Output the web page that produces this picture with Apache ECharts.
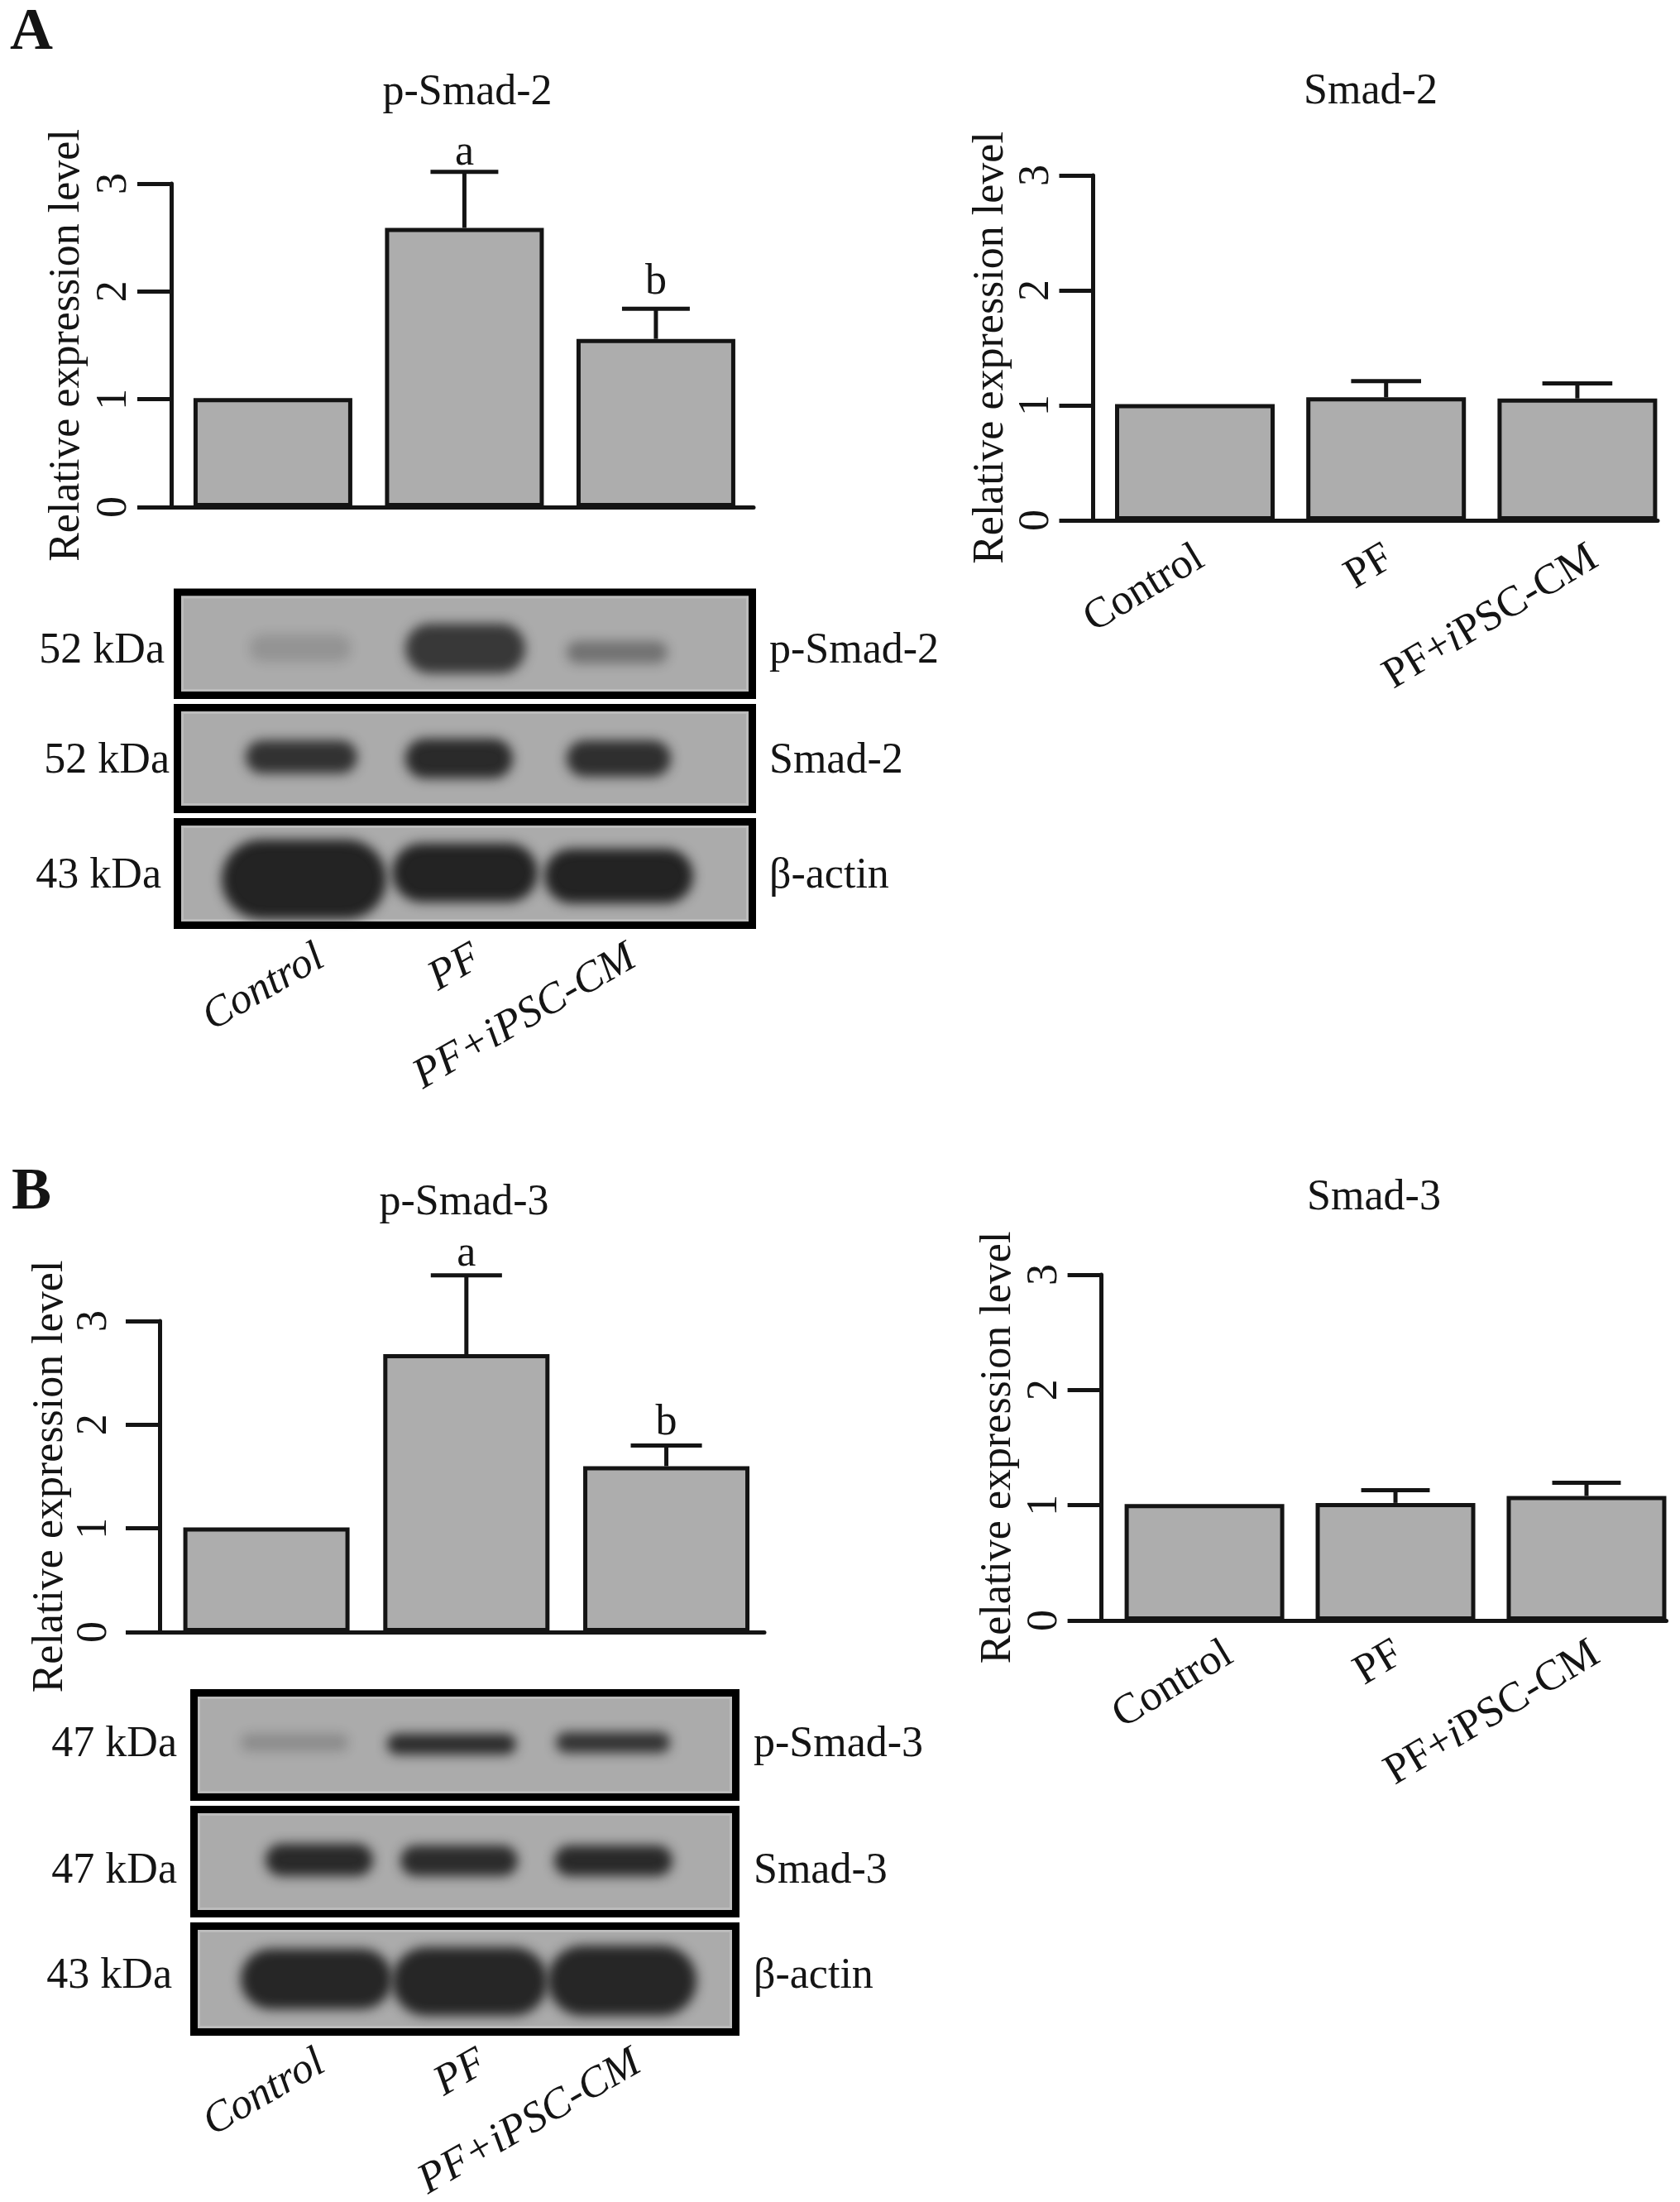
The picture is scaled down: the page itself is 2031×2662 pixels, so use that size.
<!DOCTYPE html>
<html>
<head>
<meta charset="utf-8">
<title>Smad expression</title>
<script src="https://cdn.jsdelivr.net/npm/echarts@6/dist/echarts.min.js"></script>
<style>
html, body {margin: 0; padding: 0; background: #fff;}
#echarts-smad {width: 2031px; height: 2662px;}
</style>
</head>
<body>
<div id="echarts-smad"></div>
<script>
// Get dom in html
let smad_chart = echarts.init(document.getElementById("echarts-smad"));
//----------------------Data----------------------
let categories = ['Control', 'PF', 'PF+iPSC-CM'];
let y_ticks = [0, 1, 2, 3];
let y_axis_name = 'Relative expression level';

let p_smad2_values = [1.01, 2.59, 1.56];
let p_smad2_errors = [null, 3.11, 1.84];
let p_smad2_marks = ['', 'a', 'b'];
let smad2_values = [1.01, 1.07, 1.06];
let smad2_errors = [null, 1.21, 1.19];
let p_smad3_values = [1.01, 2.68, 1.60];
let p_smad3_errors = [null, 3.44, 1.80];
let p_smad3_marks = ['', 'a', 'b'];
let smad3_values = [1.01, 1.02, 1.08];
let smad3_errors = [null, 1.13, 1.195];

// band darkness per lane, 0 is nothing and 1 is saturated
let blot_p_smad2 = [0.16, 0.82, 0.40];
let blot_smad2 = [0.86, 0.92, 0.88];
let blot_actin_a = [0.97, 0.97, 0.97];
let blot_p_smad3 = [0.22, 0.90, 0.85];
let blot_smad3 = [0.92, 0.90, 0.92];
let blot_actin_b = [0.94, 0.94, 0.94];
//----------------------Style----------------------
let font_name = '"Liberation Serif", "Times New Roman", serif';
let font_size = 52;
let ink = '#141414';
let bar_fill = '#adadad';
let blot_fill = '#ababab';
let blot_rim = '#bcbcbc';
//--------------------Location--------------------
// left, top, width, height and the lane axis range of each bar plot
let bar_panels = [
    {left: 207, top: 222, width: 704, height: 391, min: -0.531, max: 2.51, bar: 192, cap: 0.354,
     title: 'p-Smad-2', titleX: 565, titleY: 112, nameGap: 100, labelMargin: 43,
     values: p_smad2_values, errors: p_smad2_errors, marks: p_smad2_marks, markGap: [0, 7, 17]},
    {left: 1321.5, top: 212, width: 682.5, height: 417, min: -0.532, max: 2.42, bar: 193, cap: 0.366,
     title: 'Smad-2', titleX: 1657, titleY: 111, nameGap: 97, labelMargin: 42,
     values: smad2_values, errors: smad2_errors,
     labelAt: [0.03, 1.02, 2.09], labelMarginX: 42},
    {left: 193, top: 1597, width: 731, height: 376, min: -0.534, max: 2.49, bar: 201, cap: 0.356,
     title: 'p-Smad-3', titleX: 561, titleY: 1454, nameGap: 106, labelMargin: 53,
     values: p_smad3_values, errors: p_smad3_errors, marks: p_smad3_marks, markGap: [0, 11, 12]},
    {left: 1331.6, top: 1541, width: 682.9, height: 418, min: -0.539, max: 2.418, bar: 193, cap: 0.359,
     title: 'Smad-3', titleX: 1661, titleY: 1448, nameGap: 98, labelMargin: 42,
     values: smad3_values, errors: smad3_errors,
     labelAt: [0.13, 1.02, 2.05], labelMarginX: 37},
];
// each blot frame, the lane range, and each band as lane, height, width, thickness in axis units
let blot_panels = [
    {left: 214.5, top: 716, width: 695, height: 124.5, min: -0.764, max: 2.764, density: blot_p_smad2,
     kDa: '52 kDa', kDaX: 199, protein: 'p-Smad-2', proteinY: 787,
     bands: [[-0.01, 0.458, 0.624, 0.265], [1.003, 0.454, 0.736, 0.482], [1.934, 0.418, 0.619, 0.217]]},
    {left: 214.5, top: 855.5, width: 695, height: 123, min: -0.764, max: 2.764, density: blot_smad2,
     kDa: '52 kDa', kDaX: 205, protein: 'Smad-2', proteinY: 920,
     bands: [[-0.003, 0.516, 0.685, 0.325], [0.964, 0.5, 0.66, 0.39], [1.944, 0.5, 0.64, 0.358]]},
    {left: 214.5, top: 993.5, width: 695, height: 125, min: -0.764, max: 2.764, density: blot_actin_a,
     kDa: '43 kDa', kDaX: 195, protein: '\u03b2-actin', proteinY: 1059,
     bands: [[0.013, 0.444, 1.01, 0.768], [1.0, 0.508, 0.893, 0.568], [1.944, 0.476, 0.914, 0.528]],
     labelAt: [0.117, 1.08, 2.03], labelMargin: 36},
    {left: 234.5, top: 2046.5, width: 655, height: 126, min: -0.63, max: 2.764, density: blot_p_smad3,
     kDa: '47 kDa', kDaX: 214, protein: 'p-Smad-3', proteinY: 2109,
     bands: [[0, 0.524, 0.674, 0.167], [0.984, 0.508, 0.808, 0.198], [1.995, 0.524, 0.715, 0.198]]},
    {left: 234.5, top: 2187.5, width: 655, height: 126, min: -0.63, max: 2.764, density: blot_smad3,
     kDa: '47 kDa', kDaX: 214, protein: 'Smad-3', proteinY: 2262,
     bands: [[0.155, 0.516, 0.674, 0.31], [1.031, 0.508, 0.736, 0.294], [1.997, 0.508, 0.741, 0.294]]},
    {left: 234.5, top: 2328.5, width: 655, height: 128, min: -0.63, max: 2.764, density: blot_actin_b,
     kDa: '43 kDa', kDaX: 208, protein: '\u03b2-actin', proteinY: 2389,
     bands: [[0.137, 0.5, 0.948, 0.57], [1.098, 0.477, 0.974, 0.648], [2.052, 0.484, 0.933, 0.664]],
     labelAt: [0.17, 1.185, 2.15], labelMargin: 34},
];
let band_blur = 14;
let label_rotate = 31;
let blot_label_rotate = 30;
//-------------------Containers--------------------
let grid_list = [];
let x_axis_list = [];
let y_axis_list = [];
let series_list = [];
let title_list = [];
let graphic_list = [];

function add_text(text, x, y, align, size, weight) {
    graphic_list.push({
        type: 'text',
        x: x,
        y: y,
        silent: true,
        style: {
            text: text,
            fontFamily: font_name,
            fontSize: size,
            fontWeight: weight,
            fill: ink,
            align: align,
            verticalAlign: 'middle',
        },
    });
}

function category_label(value) {
    return categories[Math.round(value)];
}

function upright_label(value) {
    let name = categories[Math.round(value)];
    if (name.indexOf('i') < 0) {
        return name;
    }
    // only the i of iPSC leans in the right hand plots
    let parts = name.split('i');
    return '{n|' + parts[0] + '}{it|i}{n|' + parts[1] + '}';
}
//--------------------Bar plots--------------------
bar_panels.forEach(function (panel) {
    let index = grid_list.length;
    grid_list.push({
        left: panel.left,
        top: panel.top,
        width: panel.width,
        height: panel.height,
        outerBoundsMode: 'none',
    });
    x_axis_list.push({
        gridIndex: index,
        type: 'value',
        min: panel.min,
        max: panel.max,
        splitLine: {show: false},
        axisLine: {show: true, onZero: false, lineStyle: {color: ink, width: 5}},
        axisTick: {show: false},
        axisLabel: panel.labelAt ? {
            show: true,
            customValues: panel.labelAt,
            formatter: upright_label,
            rotate: label_rotate,
            margin: panel.labelMarginX,
            color: ink,
            fontFamily: font_name,
            fontSize: font_size,
            rich: {
                n: {fontFamily: font_name, fontSize: font_size, color: ink},
                it: {fontFamily: font_name, fontSize: font_size, color: ink, fontStyle: 'italic'},
            },
        } : {show: false},
    });
    y_axis_list.push({
        gridIndex: index,
        type: 'value',
        min: y_ticks[0],
        max: y_ticks[y_ticks.length - 1],
        interval: 1,
        splitLine: {show: false},
        axisLine: {show: true, onZero: false, lineStyle: {color: ink, width: 5}},
        axisTick: {show: true, length: 41, lineStyle: {color: ink, width: 5}},
        axisLabel: {
            rotate: 90,
            margin: panel.labelMargin,
            color: ink,
            fontFamily: font_name,
            fontSize: font_size,
        },
        name: y_axis_name,
        nameLocation: 'middle',
        nameRotate: 90,
        nameGap: panel.nameGap,
        nameMoveOverlap: false,
        nameTextStyle: {color: ink, fontFamily: font_name, fontSize: font_size},
    });
    title_list.push({
        text: panel.title,
        left: panel.titleX,
        top: panel.titleY - font_size / 2,
        textAlign: 'center',
        padding: 0,
        textStyle: {color: ink, fontFamily: font_name, fontSize: font_size, fontWeight: 'normal'},
    });
    series_list.push({
        type: 'bar',
        xAxisIndex: index,
        yAxisIndex: index,
        barWidth: panel.bar,
        silent: true,
        itemStyle: {color: bar_fill, borderColor: ink, borderWidth: 5},
        data: panel.values.map(function (value, lane) {
            return [lane, value];
        }),
    });
    series_list.push({
        type: 'custom',
        xAxisIndex: index,
        yAxisIndex: index,
        silent: true,
        z: 3,
        data: panel.values.map(function (value, lane) {
            return [lane, value, panel.errors[lane] === null ? value : panel.errors[lane]];
        }),
        encode: {x: 0, y: 1},
        renderItem: function (params, api) {
            let lane = api.value(0);
            let base = api.coord([lane, api.value(1)]);
            let top = api.coord([lane, api.value(2)]);
            let half_cap = api.size([panel.cap, 0])[0] / 2;
            let line_style = {stroke: ink, lineWidth: 5, fill: null};
            let children = [];
            if (panel.errors[params.dataIndex] !== null) {
                children.push({type: 'line', shape: {x1: base[0], y1: base[1], x2: top[0], y2: top[1]}, style: line_style});
                children.push({type: 'line', shape: {x1: top[0] - half_cap, y1: top[1], x2: top[0] + half_cap, y2: top[1]}, style: line_style});
            }
            if (panel.marks && panel.marks[params.dataIndex]) {
                children.push({
                    type: 'text',
                    x: top[0],
                    y: top[1] - panel.markGap[params.dataIndex] + 11,
                    style: {
                        text: panel.marks[params.dataIndex],
                        fontFamily: font_name,
                        fontSize: font_size,
                        fill: ink,
                        align: 'center',
                        verticalAlign: 'bottom',
                    },
                });
            }
            return {type: 'group', children: children};
        },
    });
});
//---------------------Blots---------------------
blot_panels.forEach(function (panel) {
    let index = grid_list.length;
    grid_list.push({
        show: true,
        left: panel.left,
        top: panel.top,
        width: panel.width,
        height: panel.height,
        outerBoundsMode: 'none',
        backgroundColor: blot_fill,
        borderColor: '#000',
        borderWidth: 9,
    });
    x_axis_list.push({
        gridIndex: index,
        type: 'value',
        min: panel.min,
        max: panel.max,
        splitLine: {show: false},
        axisLine: {show: false},
        axisTick: {show: false},
        axisLabel: panel.labelAt ? {
            show: true,
            customValues: panel.labelAt,
            formatter: category_label,
            rotate: blot_label_rotate,
            margin: panel.labelMargin,
            color: ink,
            fontFamily: font_name,
            fontStyle: 'italic',
            fontSize: font_size,
        } : {show: false},
    });
    y_axis_list.push({
        gridIndex: index,
        type: 'value',
        min: 0,
        max: 1,
        splitLine: {show: false},
        axisLine: {show: false},
        axisTick: {show: false},
        axisLabel: {show: false},
    });
    series_list.push({
        type: 'custom',
        xAxisIndex: index,
        yAxisIndex: index,
        silent: true,
        clip: false,
        data: panel.density.map(function (value, lane) {
            return [panel.bands[lane][0], panel.bands[lane][1], value];
        }),
        encode: {x: 0, y: 1},
        renderItem: function (params, api) {
            let band = panel.bands[params.dataIndex];
            let center = api.coord([api.value(0), api.value(1)]);
            let size = api.size([band[2], band[3]]);
            let w = size[0];
            let h = size[1];
            let shift = 6000;
            let children = [];
            if (params.dataIndex === 0) {
                // lighter strip just inside the black frame
                children.push({
                    type: 'rect',
                    shape: {x: panel.left + 6, y: panel.top + 6, width: panel.width - 12, height: panel.height - 12},
                    style: {fill: null, stroke: blot_rim, lineWidth: 3},
                });
            }
            // the shape sits off the page so only its blurred shadow lands on the blot
            children.push({
                type: 'rect',
                shape: {x: center[0] - w / 2 - shift, y: center[1] - h / 2, width: w, height: h, r: h / 2},
                style: {
                    fill: '#000',
                    shadowBlur: band_blur,
                    shadowColor: 'rgba(30,30,30,' + api.value(2) + ')',
                    shadowOffsetX: shift,
                },
            });
            return {type: 'group', children: children};
        },
    });
    add_text(panel.kDa, panel.kDaX, panel.proteinY, 'right', font_size);
    add_text(panel.protein, blot_panels.indexOf(panel) < 3 ? 930 : 911, panel.proteinY, 'left', font_size);
});
//---------------------Letters---------------------
add_text('A', 38, 40, 'center', 72, 'bold');
add_text('B', 38, 1442, 'center', 72, 'bold');
//------------------Generate Graph------------------
let smad_chart_option = {
    backgroundColor: '#fff',
    animation: false,
    tooltip: {show: false},
    title: title_list,
    grid: grid_list,
    xAxis: x_axis_list,
    yAxis: y_axis_list,
    series: series_list,
    graphic: graphic_list,
};
smad_chart.setOption(smad_chart_option, true);
</script>
</body>
</html>
